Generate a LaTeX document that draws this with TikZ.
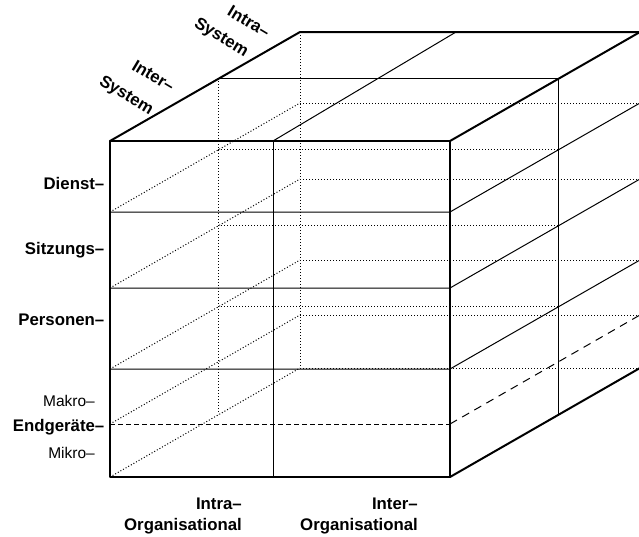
\documentclass[tikz,border=0pt]{standalone}
\usepackage{fontspec}
\setmainfont{Liberation Sans}
\begin{document}
\begin{tikzpicture}[x=1pt,y=-1pt,
  thickedge/.style={line width=2pt,line cap=round,line join=round},
  thinline/.style={line width=1pt},
  hidden/.style={line width=1pt,dash pattern=on 1pt off 2pt},
  frontdash/.style={line width=1pt,dash pattern=on 5pt off 3pt},
  sidedash/.style={line width=1pt,dash pattern=on 8pt off 6pt},
  boldlab/.style={inner sep=0pt,font=\bfseries\fontsize{16.8}{20}\selectfont},
  lightlab/.style={inner sep=0pt,font=\fontsize{15.5}{19}\selectfont}]
\useasboundingbox (0,0) rectangle (639,536);
\clip (0,0) rectangle (639,536);
% front face corners
\coordinate (F1) at (110,141); \coordinate (F2) at (450,141);
\coordinate (F3) at (450,477); \coordinate (F4) at (110,477);
% back face corners
\coordinate (B1) at (300,32); \coordinate (B2) at (640,32);
\coordinate (B3) at (640,368); \coordinate (B4) at (300,368);
% middle plane corners
\coordinate (M1) at (218,78); \coordinate (M2) at (558.5,78);
\coordinate (M3) at (558.5,414); \coordinate (M4) at (218,414);
% front divider
\coordinate (D1) at (273,141); \coordinate (D2) at (273,477);
\coordinate (D3) at (456,32);
% level heights (front)
\foreach \n/\y in {a/212,b/288,c/369,d/424}{
  \coordinate (L\n) at (110,\y);
  \coordinate (R\n) at (450,\y);
  \coordinate (BL\n) at (300,\y-109);
  \coordinate (BR\n) at (640,\y-109);
}
% hidden lines
\draw[hidden] (B1) -- (B4) -- (B3);
\foreach \n in {a,b,c,d}{\draw[hidden] (BL\n) -- (BR\n); \draw[hidden] (L\n) -- (BL\n);}
\draw[hidden] (F4) -- (B4);
\draw[hidden] (M1) -- (M4);
\foreach \y in {149,225,306}{\draw[hidden] (218,\y) -- (558.5,\y);}
% visible thin lines
\draw[thinline] (M1) -- (M2) -- (M3);
\draw[thinline] (D1) -- (D3);
\draw[thinline] (D1) -- (D2);
\foreach \n in {a,b,c}{\draw[thinline] (L\n) -- (R\n) -- (BR\n);}
\draw[frontdash] (Ld) -- (Rd);
\draw[sidedash] (Rd) -- (BRd);
% outline
\draw[thickedge] (F1) -- (F2) -- (F3) -- (F4) -- cycle;
\draw[thickedge] (F1) -- (B1) -- (B2);
\draw[thickedge] (F2) -- (B2);
\draw[thickedge] (F3) -- (B3);
% left labels
\node[boldlab,anchor=base east] (dienst) at (104.5,189) {Dienst–};
\node[boldlab,anchor=base east] (sitz) at (104.5,254) {Sitzungs–};
\node[boldlab,anchor=base east] (pers) at (104.5,325.5) {Personen–};
\node[lightlab,anchor=base east] (makro) at (95,406.5) {Makro–};
\node[boldlab,anchor=base east] (endg) at (104.5,431) {Endgeräte–};
\node[lightlab,anchor=base east] (mikro) at (95,458) {Mikro–};
% bottom labels
\node[boldlab,anchor=base east] (intraO) at (242,509) {Intra–};
\node[boldlab,anchor=base east] (intraO2) at (242,530) {Organisational};
\node[boldlab,anchor=base east] (interO) at (418,509) {Inter–};
\node[boldlab,anchor=base east] (interO2) at (418,530) {Organisational};
% top labels
\node[boldlab,rotate=-31] (intraS) at (249,21.5) {Intra–};
\node[boldlab,rotate=-31] (intraS2) at (221,38) {System};
\node[boldlab,rotate=-31] (interS) at (153.5,76) {Inter–};
\node[boldlab,rotate=-31] (interS2) at (126,96) {System};
\end{tikzpicture}
\end{document}
